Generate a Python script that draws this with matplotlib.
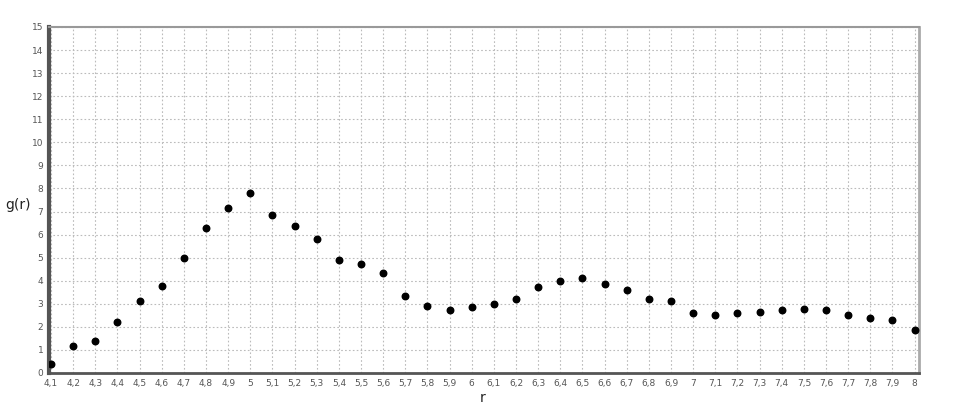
import numpy as np
import matplotlib.pyplot as plt

# r values and g(r)
r = [4.1, 4.2, 4.3, 4.4, 4.5, 4.6, 4.7, 4.8, 4.9, 5.0,
     5.1, 5.2, 5.3, 5.4, 5.5, 5.6, 5.7, 5.8, 5.9, 6.0,
     6.1, 6.2, 6.3, 6.4, 6.5, 6.6, 6.7, 6.8, 6.9, 7.0,
     7.1, 7.2, 7.3, 7.4, 7.5, 7.6, 7.7, 7.8, 7.9, 8.0]
g = [0.39, 1.16, 1.37, 2.19, 3.1, 3.78, 4.99, 6.27, 7.15, 7.8,
     6.86, 6.36, 5.79, 4.9, 4.74, 4.32, 3.32, 2.92, 2.73, 2.85,
     3.0, 3.2, 3.71, 4.0, 4.1, 3.84, 3.61, 3.2, 3.1, 2.61,
     2.51, 2.6, 2.64, 2.73, 2.77, 2.73, 2.51, 2.38, 2.28, 1.88]

x_ticks = [round(v, 1) for v in r]
x_labels = [("%g" % v).replace(".", ",") for v in x_ticks]
y_ticks = list(range(0, 16))

fig = plt.figure(figsize=(9.7, 4.19), dpi=100)
ax = fig.add_axes([0.0505, 0.1098, 0.8965, 0.8258])

ax.scatter(r, g, s=22, color='black', zorder=3)

ax.set_xlim(4.091, 8.018)
ax.set_ylim(0, 15)
ax.set_xticks(x_ticks)
ax.set_xticklabels(x_labels)
ax.set_yticks(y_ticks)
ax.tick_params(length=0, labelsize=6.5, labelcolor='#555555', pad=4)

ax.grid(True, color='#bbbbbb', linestyle=(0, (1.5, 2)), linewidth=0.8)
ax.set_axisbelow(True)

# heavy left/bottom spines, light top/right
ax.spines['left'].set_color('#555555')
ax.spines['left'].set_linewidth(3)
ax.spines['bottom'].set_color('#555555')
ax.spines['bottom'].set_linewidth(2)
ax.spines['top'].set_color('#999999')
ax.spines['top'].set_linewidth(1.5)
ax.spines['right'].set_color('#aaaaaa')
ax.spines['right'].set_linewidth(2)

fig.text(0.005, 0.51, 'g(r)', fontsize=10, color='#222222', va='center', ha='left')
fig.text(0.498, 0.05, 'r', fontsize=10, color='#222222', va='center', ha='center')

fig.savefig('out.png', dpi=100)
